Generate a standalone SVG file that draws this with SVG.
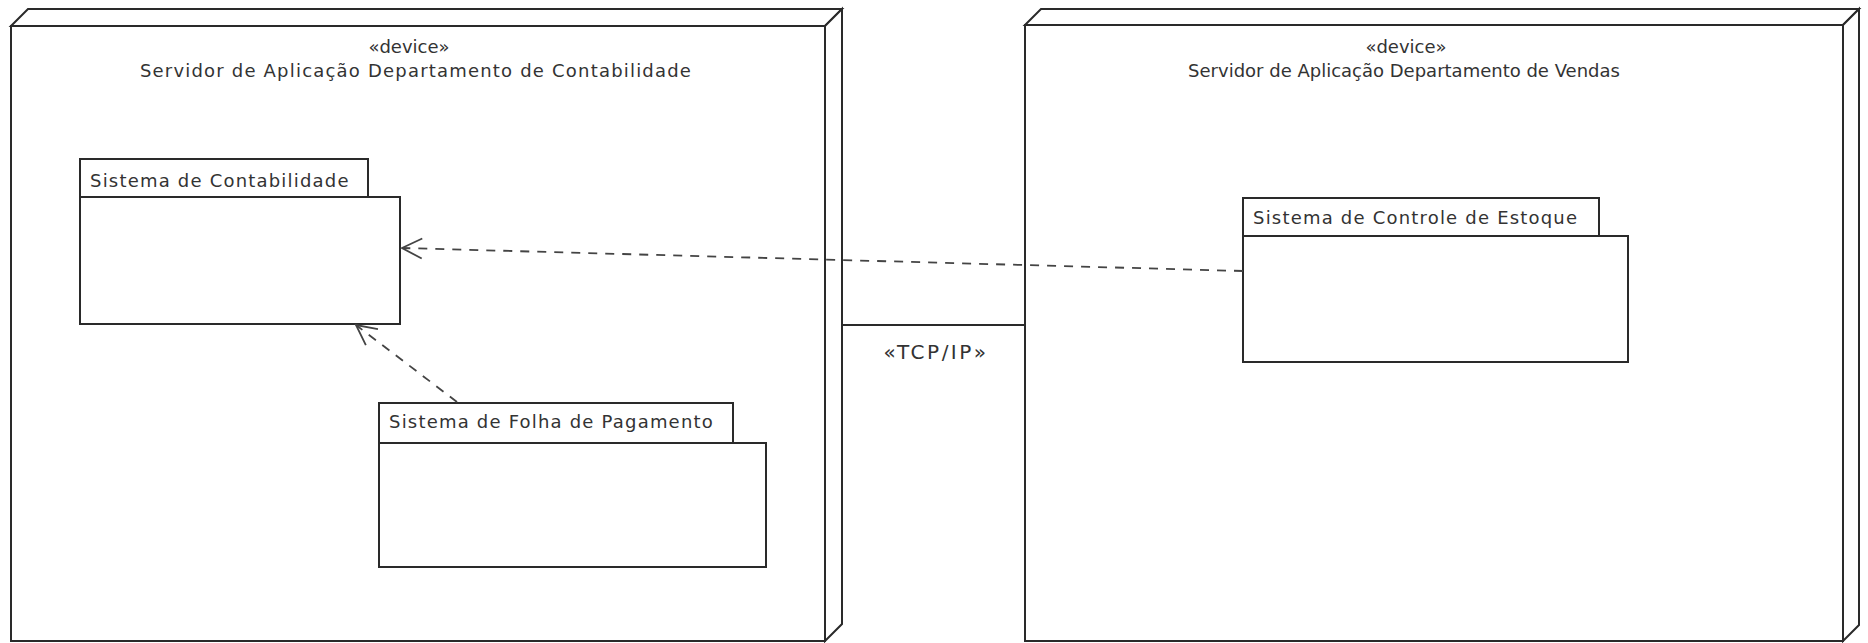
<svg xmlns="http://www.w3.org/2000/svg" width="1868" height="643" viewBox="0 0 1868 643">
<defs>
<style>
.dev{fill:#fff;stroke:#2a2a2a;stroke-width:2;stroke-linejoin:miter}
.pkg{fill:#fff;stroke:#2a2a2a;stroke-width:2}
.t{font-family:"DejaVu Sans",Verdana,sans-serif;font-size:18px;letter-spacing:1.2px;fill:#333}
.t0{font-family:"DejaVu Sans",Verdana,sans-serif;font-size:18px;fill:#333}
.lbl{font-family:"DejaVu Sans",Verdana,sans-serif;font-size:20px;letter-spacing:2.5px;fill:#333}
.dep{fill:none;stroke:#444;stroke-width:1.8;stroke-dasharray:9 8}
.link{fill:none;stroke:#2a2a2a;stroke-width:2}
</style>
<marker id="open" viewBox="0 0 24 24" refX="22" refY="12" markerWidth="24" markerHeight="24" markerUnits="userSpaceOnUse" orient="auto">
<path d="M2,2 L22,12 L2,22" fill="none" stroke="#444" stroke-width="1.8"/>
</marker>
</defs>
<rect width="1868" height="643" fill="#fff"/>
<g id="device-contabilidade">
<polygon class="dev" points="11,26 28,9 842,9 825,26"/>
<polygon class="dev" points="825,26 842,9 842,624 825,641"/>
<rect class="dev" x="11" y="26" width="814" height="615"/>
<text class="t0" x="409" y="53" text-anchor="middle">«device»</text>
<text class="t" x="416" y="77" text-anchor="middle">Servidor de Aplicação Departamento de Contabilidade</text>
</g>
<g id="device-vendas">
<polygon class="dev" points="1025,25 1041,9 1859,9 1843,25"/>
<polygon class="dev" points="1843,25 1859,9 1859,625 1843,641"/>
<rect class="dev" x="1025" y="25" width="818" height="616"/>
<text class="t0" x="1406" y="53" text-anchor="middle">«device»</text>
<text class="t0" x="1404" y="77" text-anchor="middle">Servidor de Aplicação Departamento de Vendas</text>
</g>
<g id="pkg-contabilidade">
<rect class="pkg" x="80" y="159" width="288" height="38"/>
<rect class="pkg" x="80" y="197" width="320" height="127"/>
<text class="t" x="90" y="187">Sistema de Contabilidade</text>
</g>
<g id="pkg-folha">
<rect class="pkg" x="379" y="403" width="354" height="40"/>
<rect class="pkg" x="379" y="443" width="387" height="124"/>
<text class="t" x="389" y="428">Sistema de Folha de Pagamento</text>
</g>
<g id="pkg-estoque">
<rect class="pkg" x="1243" y="198" width="356" height="38"/>
<rect class="pkg" x="1243" y="236" width="385" height="126"/>
<text class="t" x="1253" y="224">Sistema de Controle de Estoque</text>
</g>
<g id="connectors">
<line class="link" x1="842" y1="325" x2="1025" y2="325"/>
<text class="lbl" x="936" y="359" text-anchor="middle">«TCP/IP»</text>
<line class="dep" x1="1243" y1="271" x2="402" y2="248" marker-end="url(#open)"/>
<line class="dep" x1="457" y1="402" x2="356" y2="325" marker-end="url(#open)"/>
</g>
</svg>
